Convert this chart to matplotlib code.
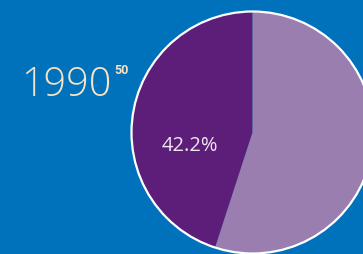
import matplotlib
matplotlib.use("Agg")
import matplotlib.pyplot as plt
from matplotlib.patches import Circle

# Data
segments = ["Share", "Rest"]
shares = [45.0, 55.0]
share_label = "42.2%"
year = "1990"
note = "50"

bg = "#0072BC"
colors = ["#5D1E79", "#9A7EB0"]

W, H = 363, 254
fig = plt.figure(figsize=(W / 100, H / 100), dpi=100, facecolor=bg)
ax = fig.add_axes([0, 0, 1, 1])
ax.set_facecolor(bg)

cx, cy, r = 252.5, H - 132.5, 121
ax.pie(shares, colors=colors, startangle=90, counterclock=True,
       center=(cx, cy), radius=r, frame=True,
       wedgeprops=dict(linewidth=0))
ax.add_patch(Circle((cx, cy), r, fill=False, edgecolor="white", linewidth=1.6, zorder=5))
ax.set_xlim(0, W)
ax.set_ylim(0, H)
ax.set_aspect("equal")
ax.axis("off")

ax.text(190, H - 146, share_label, color="#F0E6F2", fontsize=14.5,
        family="Open Sans", ha="center", va="center", zorder=6)

ax.text(21, H - 95.5, year, color="#F8E3C6", fontsize=28.5, family="Open Sans",
        weight="light", ha="left", va="baseline")
ax.text(114.5, H - 74, note, color="#F8E3C6", fontsize=9, family="Roboto",
        weight="bold", ha="left", va="baseline")

fig.savefig("out.png", dpi=100, facecolor=bg)
